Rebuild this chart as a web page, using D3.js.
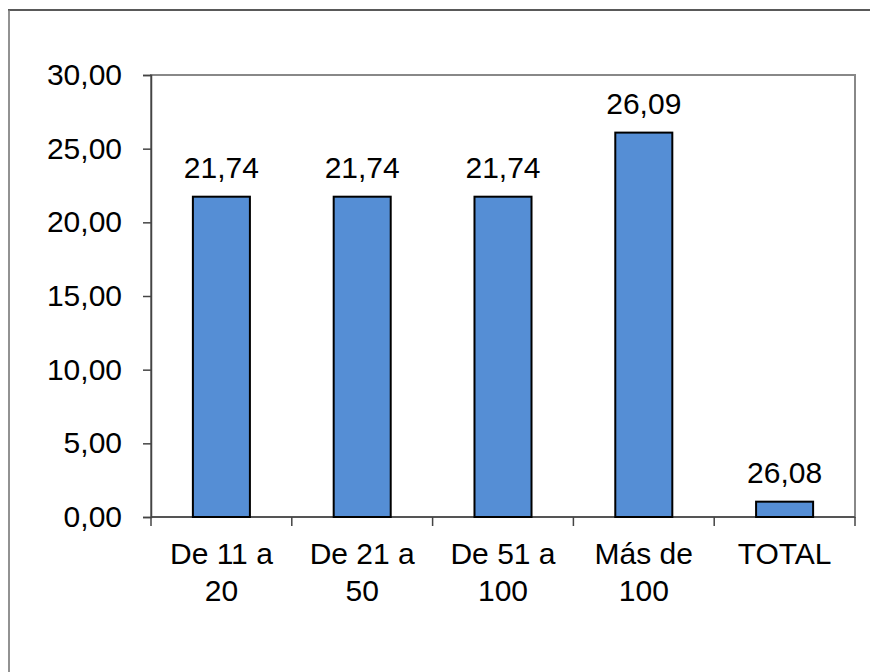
<!DOCTYPE html>
<html><head><meta charset="utf-8">
<script src="https://cdn.jsdelivr.net/npm/d3@7"></script>
<style>body{margin:0;background:#fff}svg{display:block}text{font-family:"Liberation Sans",Arial,sans-serif;fill:#000}</style>
</head><body>
<svg id="c" width="870" height="672"></svg>
<script>
const categories = [["De 11 a","20"],["De 21 a","50"],["De 51 a","100"],["Más de","100"],["TOTAL"]];
const values = [21.74, 21.74, 21.74, 26.09, 1.04];
const valueLabels = ["21,74","21,74","21,74","26,09","26,08"];
const yTicks = [0,5,10,15,20,25,30];

const svg = d3.select("#c");
const m = {l:151, r:855, t:75, b:517};
// outer frame (only top and left edges visible)
svg.append("line").attr("x1",8).attr("x2",870).attr("y1",10).attr("y2",10).attr("stroke","#222").attr("stroke-width",1.3);
svg.append("line").attr("x1",9).attr("x2",9).attr("y1",10).attr("y2",672).attr("stroke","#777").attr("stroke-width",1.6);

const keys = categories.map((d,i)=>i);
const x = d3.scaleBand().domain(keys).range([m.l,m.r]).paddingInner(0.595).paddingOuter(0.2975);
const xc = d3.scaleBand().domain(keys).range([m.l,m.r]);
const y = d3.scaleLinear().domain([0,30]).range([m.b,m.t]);

svg.append("rect").attr("x",m.l).attr("y",m.t).attr("width",m.r-m.l).attr("height",m.b-m.t)
  .attr("fill","none").attr("stroke","#888").attr("stroke-width",2);

const fmt = v => d3.format(".2f")(v).replace(".",",");
const ya = svg.append("g").attr("transform",`translate(${m.l},0)`)
  .call(d3.axisLeft(y).tickValues(yTicks).tickSize(8).tickPadding(21).tickFormat(fmt));
ya.select(".domain").attr("stroke","#444").attr("stroke-width",1.5);
ya.selectAll(".tick line").attr("stroke","#444").attr("stroke-width",1.5);
ya.selectAll("text").attr("font-size",30).attr("font-family","Liberation Sans, Arial, sans-serif").attr("fill","#000");

svg.append("line").attr("x1",m.l).attr("x2",m.r).attr("y1",m.b).attr("y2",m.b).attr("stroke","#444").attr("stroke-width",1.5);
const bounds = keys.map(k=>xc(k)).concat([m.r]);
svg.selectAll(".xt").data(bounds).join("line").attr("x1",d=>d).attr("x2",d=>d)
  .attr("y1",m.b).attr("y2",m.b+9).attr("stroke","#444").attr("stroke-width",1.5);

svg.selectAll(".bar").data(values).join("rect")
  .attr("x",(d,i)=>x(i)).attr("width",x.bandwidth())
  .attr("y",d=>y(d)).attr("height",d=>m.b-y(d))
  .attr("fill","#558ED5").attr("stroke","#000").attr("stroke-width",2);

svg.selectAll(".vl").data(values).join("text")
  .attr("x",(d,i)=>x(i)+x.bandwidth()/2).attr("y",d=>y(d)-19)
  .attr("text-anchor","middle").attr("font-size",30).text((d,i)=>valueLabels[i]);

const xl = svg.selectAll(".xl").data(categories).join("text")
  .attr("text-anchor","middle").attr("font-size",30);
xl.each(function(lines,i){
  const t = d3.select(this);
  lines.forEach((s,j)=>t.append("tspan").attr("x",xc(i)+xc.bandwidth()/2).attr("y",564+j*37).text(s));
});
</script>
</body></html>
